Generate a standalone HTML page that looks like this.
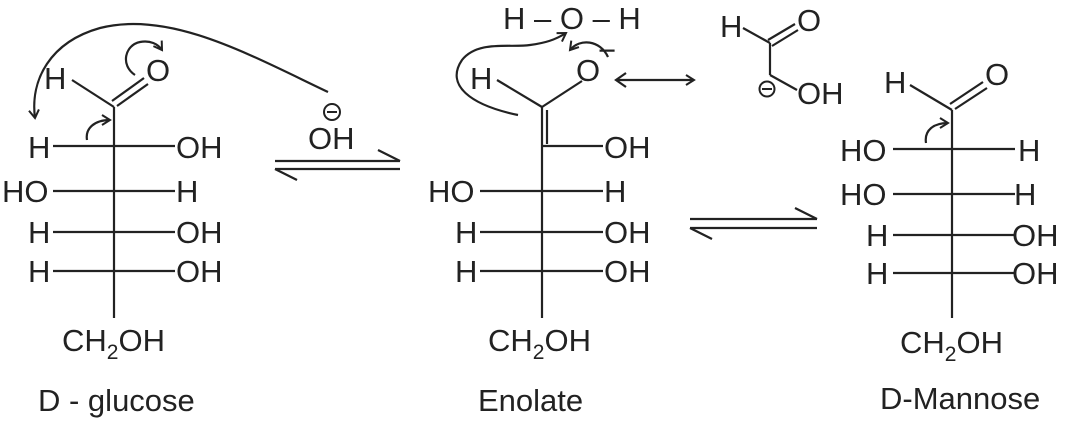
<!DOCTYPE html>
<html><head><meta charset="utf-8"><style>
html,body{margin:0;padding:0;background:#fff;}
svg{display:block;}
text{font-family:"Liberation Sans",Arial,sans-serif;font-size:31px;fill:#222;}
</style></head><body>
<svg width="1068" height="423" viewBox="0 0 1068 423" xmlns="http://www.w3.org/2000/svg">
<defs>
<marker id="ah" markerWidth="12" markerHeight="12" refX="9" refY="6" orient="auto" markerUnits="userSpaceOnUse">
<path d="M1,1 L9,6 L1,11" fill="none" stroke="#222" stroke-width="2"/>
</marker>
</defs>
<g stroke="#222" stroke-width="2.2" fill="none">
<!-- D-glucose -->
<line x1="114" y1="107" x2="114" y2="318"/>
<line x1="72" y1="80" x2="114" y2="107"/>
<line x1="112" y1="101" x2="144" y2="78"/>
<line x1="117" y1="106" x2="148" y2="84"/>
<line x1="53" y1="146" x2="175" y2="146"/>
<line x1="53" y1="191" x2="175" y2="191"/>
<line x1="53" y1="232" x2="175" y2="232"/>
<line x1="53" y1="271" x2="175" y2="271"/>
<path d="M328,92 C250,55 170,10 100,28 C50,42 30,80 35,118" marker-end="url(#ah)"/>
<path d="M135,75 C120,65 125,45 140,42 C150,40 158,44 162,50" marker-end="url(#ah)"/>
<path d="M87,140 C85,128 95,120 110,120" marker-end="url(#ah)"/>
<!-- eq arrow 1 -->
<line x1="275" y1="161" x2="400" y2="161"/>
<line x1="400" y1="161" x2="378" y2="150"/>
<line x1="275" y1="169" x2="400" y2="169"/>
<line x1="275" y1="169" x2="297" y2="180"/>
<!-- Enolate -->
<line x1="542" y1="107" x2="542" y2="318"/>
<line x1="547" y1="110" x2="547" y2="144"/>
<line x1="497" y1="80" x2="542" y2="107"/>
<line x1="542" y1="107" x2="582" y2="81"/>
<line x1="542" y1="146" x2="603" y2="146"/>
<line x1="480" y1="191" x2="603" y2="191"/>
<line x1="480" y1="232" x2="603" y2="232"/>
<line x1="480" y1="271" x2="603" y2="271"/>
<path d="M518,115 C470,105 445,85 462,60 C478,40 510,48 530,45 C545,43 555,40 566,33" marker-end="url(#ah)"/>
<path d="M608,57 C600,40 580,38 570,50" marker-end="url(#ah)"/>
<line x1="617" y1="80" x2="694" y2="80" marker-end="url(#ah)"/>
<path d="M626,73 L616,80 L626,87"/>
<!-- resonance structure -->
<line x1="743" y1="28" x2="770" y2="43"/>
<line x1="768" y1="40" x2="795" y2="24"/>
<line x1="772" y1="46" x2="798" y2="30"/>
<line x1="770" y1="43" x2="770" y2="75"/>
<line x1="770" y1="75" x2="797" y2="90"/>
<circle cx="767" cy="89" r="7.5" stroke-width="2"/>
<line x1="762" y1="89" x2="772" y2="89" stroke-width="2"/>
<!-- eq arrow 2 -->
<line x1="690" y1="219" x2="817" y2="219"/>
<line x1="817" y1="219" x2="795" y2="208"/>
<line x1="690" y1="228" x2="817" y2="228"/>
<line x1="690" y1="228" x2="712" y2="239"/>
<!-- Mannose -->
<line x1="952" y1="110" x2="952" y2="318"/>
<line x1="910" y1="85" x2="952" y2="110"/>
<line x1="950" y1="104" x2="983" y2="82"/>
<line x1="955" y1="109" x2="987" y2="88"/>
<line x1="893" y1="149" x2="1015" y2="149"/>
<line x1="893" y1="194" x2="1015" y2="194"/>
<line x1="893" y1="235" x2="1015" y2="235"/>
<line x1="893" y1="273" x2="1015" y2="273"/>
<path d="M926,143 C924,130 934,123 948,123" marker-end="url(#ah)"/>
<!-- OH- minus -->
<circle cx="332" cy="112" r="8" stroke-width="2"/>
<line x1="327" y1="112" x2="337" y2="112" stroke-width="2"/>
</g>
<!-- glucose text -->
<text x="44" y="89">H</text>
<text x="146" y="81">O</text>
<text x="28" y="158">H</text><text x="176" y="158">OH</text>
<text x="2" y="202">HO</text><text x="176" y="202">H</text>
<text x="28" y="243">H</text><text x="176" y="243">OH</text>
<text x="28" y="282">H</text><text x="176" y="282">OH</text>
<text x="62" y="351">CH<tspan font-size="21" dy="8">2</tspan><tspan dy="-8">OH</tspan></text>
<text x="38" y="411">D - glucose</text>
<text x="308" y="149">OH</text>
<!-- enolate text -->
<text x="503" y="29">H – O – H</text>
<text x="470" y="89">H</text>
<text x="576" y="81">O</text>
<text x="598" y="61" font-size="22">−</text>
<text x="604" y="158">OH</text>
<text x="428" y="202">HO</text><text x="604" y="202">H</text>
<text x="455" y="243">H</text><text x="604" y="243">OH</text>
<text x="455" y="282">H</text><text x="604" y="282">OH</text>
<text x="488" y="351">CH<tspan font-size="21" dy="8">2</tspan><tspan dy="-8">OH</tspan></text>
<text x="478" y="411">Enolate</text>
<!-- resonance text -->
<text x="720" y="37">H</text>
<text x="797" y="31">O</text>
<text x="797" y="104">OH</text>
<!-- mannose text -->
<text x="884" y="93">H</text>
<text x="985" y="85">O</text>
<text x="840" y="161">HO</text><text x="1018" y="161">H</text>
<text x="840" y="205">HO</text><text x="1014" y="205">H</text>
<text x="866" y="246">H</text><text x="1012" y="246">OH</text>
<text x="866" y="284">H</text><text x="1012" y="284">OH</text>
<text x="900" y="353">CH<tspan font-size="21" dy="8">2</tspan><tspan dy="-8">OH</tspan></text>
<text x="880" y="409">D-Mannose</text>
</svg>
</body></html>
